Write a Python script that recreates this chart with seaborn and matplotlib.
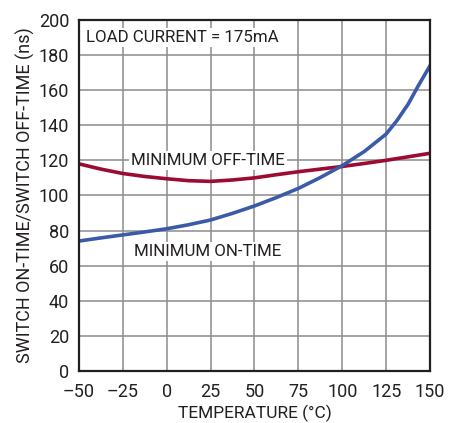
import pandas as pd
import matplotlib.pyplot as plt
import seaborn as sns

# temperatures (deg C) and the two timing curves (ns)
on_temp = [-50, -37.5, -25, -12.5, 0, 12.5, 25, 37.5, 50, 62.5, 75, 87.5,
           100, 112.5, 125, 131, 137.5, 143, 150]
on_time = [74, 75.8, 77.5, 79.2, 81, 83.3, 86, 89.8, 94, 98.8, 104, 110.2,
           117, 125, 135, 142.5, 152, 162, 174]
off_temp = [-50, -37.5, -25, -12.5, 0, 12.5, 25, 37.5, 50, 62.5, 75, 87.5,
            100, 112.5, 125, 137.5, 150]
off_time = [118, 115, 112.5, 110.8, 109.5, 108.4, 108, 108.8, 110, 111.8,
            113.5, 115, 116.5, 118.2, 120, 122, 124]

sns.set_style("white")
plt.rcParams['font.family'] = ['Roboto', 'DejaVu Sans']

df_on = pd.DataFrame({"temp": on_temp, "ns": on_time})
df_off = pd.DataFrame({"temp": off_temp, "ns": off_time})

fig = plt.figure(figsize=(4.61, 4.23), dpi=100)
ax = fig.add_axes([0.171, 0.123, 0.762, 0.830])

sns.lineplot(data=df_off, x="temp", y="ns", color="#9b0b32", lw=2.6, ax=ax)
sns.lineplot(data=df_on, x="temp", y="ns", color="#3b5ba8", lw=2.6, ax=ax)

ax.set_xlim(-50, 150)
ax.set_ylim(0, 200)
ax.set_xticks(range(-50, 151, 25))
ax.set_yticks(range(0, 201, 20))
ax.set_xticklabels(["\u201350", "\u201325", "0", "25", "50", "75", "100", "125", "150"])
ax.grid(True, color="#8c8c8c", lw=1.1)
ax.set_axisbelow(True)
for s in ax.spines.values():
    s.set_color("#231f20")
    s.set_linewidth(1.6)
ax.tick_params(labelsize=13, length=0, colors="#231f20")
ax.tick_params(axis="x", pad=9)
ax.tick_params(axis="y", pad=7)

ax.set_xlabel("TEMPERATURE (\u00b0C)", fontsize=12.5, color="#231f20", labelpad=2)
ax.set_ylabel("SWITCH ON-TIME/SWITCH OFF-TIME (ns)", fontsize=13, color="#231f20", labelpad=3)

box = dict(facecolor="white", edgecolor="none", pad=1.5)
ax.text(-46, 190, "LOAD CURRENT = 175mA", fontsize=12.2, va="center", ha="left",
        color="#231f20", bbox=box)
ax.text(23.5, 120, "MINIMUM OFF-TIME", fontsize=12.2, va="center", ha="center",
        color="#231f20", bbox=box)
ax.text(23.5, 68, "MINIMUM ON-TIME", fontsize=12.2, va="center", ha="center",
        color="#231f20", bbox=box)

fig.savefig("out.png", dpi=100)
